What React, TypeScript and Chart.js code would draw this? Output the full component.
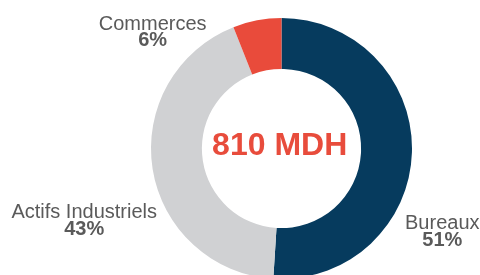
import React, { useEffect, useRef } from "react";
import { Chart, registerables } from "chart.js";

Chart.register(...registerables);

// ---- data ----
const categories = ["Bureaux", "Actifs Industriels", "Commerces"];
const shares = [51, 43, 6];
const totalLabel = "810 MDH";

// ---- style ----
const colors = ["#063b5e", "#d0d1d3", "#e94b3b"];
const labelColor = "#5a5a5a";
const centerColor = "#e84c3c";
const FONT = "'Liberation Sans', Arial, Helvetica, sans-serif";
// label anchors relative to donut centre, in units of outer radius
const labelAnchors = [
  [1.232, 0.618],
  [-1.512, 0.535],
  [-0.987, -0.911],
];

const labelsPlugin = {
  id: "donutLabels",
  afterDatasetsDraw(chart: any) {
    const meta = chart.getDatasetMeta(0);
    const arc0 = meta.data[0];
    if (!arc0) return;
    const { x, y, outerRadius } = arc0.getProps(["x", "y", "outerRadius"], true);
    const ctx = chart.ctx;
    ctx.save();
    ctx.textAlign = "center";
    ctx.textBaseline = "alphabetic";
    categories.forEach((name, i) => {
      const [fx, fy] = labelAnchors[i];
      const lx = x + fx * outerRadius;
      const ly = y + fy * outerRadius;
      ctx.fillStyle = labelColor;
      ctx.font = `20px ${FONT}`;
      ctx.fillText(name, lx, ly);
      ctx.font = `bold 20px ${FONT}`;
      ctx.fillText(`${shares[i]}%`, lx, ly + 16.6);
    });
    // centre total
    ctx.fillStyle = centerColor;
    ctx.font = `bold 32px ${FONT}`;
    ctx.fillText(totalLabel, x - 1.8, y + 6.9);
    ctx.restore();
  },
};

export default function App() {
  const ref = useRef<HTMLCanvasElement | null>(null);
  useEffect(() => {
    document.body.style.margin = "0";
    const canvas = ref.current;
    if (!canvas) return;
    const chart = new Chart(canvas, {
      type: "doughnut",
      data: {
        labels: categories,
        datasets: [
          {
            data: shares,
            backgroundColor: colors,
            borderWidth: 0,
            hoverOffset: 0,
          },
        ],
      },
      options: {
        responsive: false,
        animation: false,
        devicePixelRatio: 1,
        cutout: "61%",
        layout: { padding: { left: 151, right: 68, top: 18, bottom: 21 } },
        plugins: {
          legend: { display: false },
          tooltip: { enabled: false },
        },
      },
      plugins: [labelsPlugin],
    });
    return () => chart.destroy();
  }, []);
  return (
    <div
      style={{
        position: "absolute",
        left: 0,
        top: 0,
        width: 480,
        height: 275,
        overflow: "hidden",
        background: "#fff",
      }}
    >
      <canvas ref={ref} width={480} height={300} style={{ display: "block" }} />
    </div>
  );
}
